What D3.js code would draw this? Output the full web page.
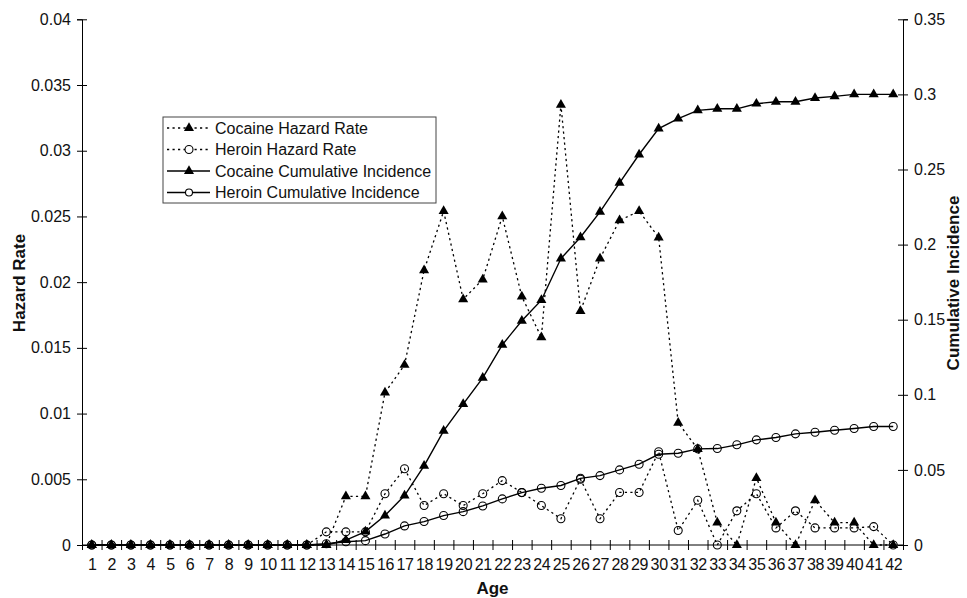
<!DOCTYPE html>
<html>
<head>
<meta charset="utf-8">
<script src="https://cdn.jsdelivr.net/npm/d3@7"></script>
<style>
  html, body { margin: 0; padding: 0; background: #fff; }
  svg { display: block; font-family: "Liberation Sans", Arial, sans-serif; }
</style>
</head>
<body>
<svg id="chart" width="967" height="598"></svg>
<script>
// ---- data ----
const ages = d3.range(1, 43);
const cocaineHazard = [0,0,0,0,0,0,0,0,0,0,0,0,
  0, 0.0037, 0.0037, 0.0116, 0.0137, 0.0209, 0.0254, 0.0187, 0.0202, 0.0250,
  0.0189, 0.0158, 0.0335, 0.0178, 0.0218, 0.0247, 0.0254, 0.0234, 0.0093, 0.0073,
  0.0017, 0, 0.0051, 0.0017, 0, 0.0034, 0.0017, 0.0017, 0, 0];
const heroinHazard = [0,0,0,0,0,0,0,0,0,0,0,0,
  0.001, 0.001, 0.001, 0.0039, 0.0058, 0.0030, 0.0039, 0.0030, 0.0039, 0.0049,
  0.0040, 0.0030, 0.0020, 0.0050, 0.0020, 0.0040, 0.0040, 0.0071, 0.0011, 0.0034,
  0, 0.0026, 0.0039, 0.0013, 0.0026, 0.0013, 0.0013, 0.0013, 0.0014, 0];
const cocaineCum = [0,0,0,0,0,0,0,0,0,0,0,0,
  0, 0.0033, 0.0089, 0.0196, 0.0329, 0.0527, 0.0760, 0.0938, 0.1113, 0.1333,
  0.1493, 0.1630, 0.1907, 0.2049, 0.2218, 0.2411, 0.2600, 0.2772, 0.2839, 0.2894,
  0.2904, 0.2904, 0.2938, 0.2951, 0.2951, 0.2976, 0.2987, 0.3000, 0.3000, 0.3000];
const heroinCum = [0,0,0,0,0,0,0,0,0,0,0,0,
  0.0008, 0.0022, 0.0029, 0.0073, 0.0127, 0.0156, 0.0196, 0.0222, 0.0260, 0.0307,
  0.0349, 0.0378, 0.0396, 0.0444, 0.0462, 0.0500, 0.0538, 0.0604, 0.0611, 0.0640,
  0.0642, 0.0667, 0.0700, 0.0716, 0.0740, 0.0751, 0.0764, 0.0776, 0.0789, 0.0789];
const hazardTicks = [0, 0.005, 0.01, 0.015, 0.02, 0.025, 0.03, 0.035, 0.04];
const hazardTickLabels = ["0", "0.005", "0.01", "0.015", "0.02", "0.025", "0.03", "0.035", "0.04"];
const cumTicks = [0, 0.05, 0.1, 0.15, 0.2, 0.25, 0.3, 0.35];
const cumTickLabels = ["0", "0.05", "0.1", "0.15", "0.2", "0.25", "0.3", "0.35"];
const legendLabels = ["Cocaine Hazard Rate", "Heroin Hazard Rate", "Cocaine Cumulative Incidence", "Heroin Cumulative Incidence"];

// ---- layout ----
const L = 82, R = 903, T = 19.3, B = 545;
const svg = d3.select("#chart");

const x = d3.scaleLinear().domain([0.5, 42.5]).range([L, R]);
const yL = d3.scaleLinear().domain([0, 0.04]).range([B, T]);
const yR = d3.scaleLinear().domain([0, 0.35]).range([B, T]);

// axes
const leftAxis = svg.append("g").attr("transform", `translate(${L},0)`)
  .call(d3.axisLeft(yL).tickValues(hazardTicks).tickFormat((d, i) => hazardTickLabels[i]).tickSizeOuter(0).tickSize(5).tickPadding(6));
leftAxis.selectAll(".tick line").attr("x1", -5).attr("x2", 5);

const rightAxis = svg.append("g").attr("transform", `translate(${R},0)`)
  .call(d3.axisRight(yR).tickValues(cumTicks).tickFormat((d, i) => cumTickLabels[i]).tickSizeOuter(0).tickSize(5).tickPadding(6));
rightAxis.selectAll(".tick line").attr("x1", -5).attr("x2", 5);

const edgeTicks = d3.range(0.5, 43, 1);
const bottomEdges = svg.append("g").attr("transform", `translate(0,${B})`)
  .call(d3.axisBottom(x).tickValues(edgeTicks).tickFormat("").tickSizeOuter(0).tickSize(5));
bottomEdges.selectAll(".tick line").attr("y1", -5).attr("y2", 5);
bottomEdges.select(".domain").remove();
const bottomLabels = svg.append("g").attr("transform", `translate(0,${B})`)
  .call(d3.axisBottom(x).tickValues(ages).tickFormat(d => String(d)).tickSize(0).tickPadding(14));
bottomLabels.select(".domain").remove();
svg.append("line").attr("x1", L).attr("x2", R).attr("y1", B).attr("y2", B).attr("stroke", "#000");

svg.selectAll(".domain").attr("stroke", "#000");
svg.selectAll(".tick line").attr("stroke", "#000");
svg.selectAll(".tick text").attr("font-size", 16).attr("fill", "#111").attr("font-family", "Liberation Sans, Arial, sans-serif");
bottomLabels.selectAll(".tick text").attr("letter-spacing", "-0.3");

// titles
svg.append("text").attr("x", (L + R) / 2).attr("y", 594)
  .attr("text-anchor", "middle").attr("font-size", 17).attr("font-weight", "bold").attr("fill", "#111").text("Age");
svg.append("text").attr("transform", `translate(25,283) rotate(-90)`)
  .attr("text-anchor", "middle").attr("font-size", 17).attr("font-weight", "bold").attr("fill", "#111").text("Hazard Rate");
svg.append("text").attr("transform", `translate(959,283) rotate(-90)`)
  .attr("text-anchor", "middle").attr("font-size", 17).attr("font-weight", "bold").attr("fill", "#111").text("Cumulative Incidence");

// series
const tri = d3.symbol().type(d3.symbolTriangle).size(44);
function drawSeries(vals, yScale, dashed, marker) {
  const pts = ages.map((a, i) => [x(a), yScale(vals[i])]);
  svg.append("path").attr("d", d3.line()(pts)).attr("fill", "none").attr("stroke", "#000")
    .attr("stroke-width", dashed ? 1.3 : 1.4)
    .attr("stroke-dasharray", dashed ? "2.2,3.3" : null);
  const g = svg.append("g");
  if (marker === "tri") {
    g.selectAll("path").data(pts).join("path").attr("d", tri)
      .attr("transform", d => `translate(${d[0]},${d[1]})`).attr("fill", "#000");
  } else {
    g.selectAll("circle").data(pts).join("circle")
      .attr("cx", d => d[0]).attr("cy", d => d[1]).attr("r", 4)
      .attr("fill", "none").attr("stroke", "#000").attr("stroke-width", 1.1);
  }
}
drawSeries(cocaineHazard, yL, true, "tri");
drawSeries(heroinHazard, yL, true, "circle");
drawSeries(cocaineCum, yR, false, "tri");
drawSeries(heroinCum, yR, false, "circle");

// legend
const lg = svg.append("g");
lg.append("rect").attr("x", 163).attr("y", 117).attr("width", 273).attr("height", 86)
  .attr("fill", "#fff").attr("stroke", "#444").attr("stroke-width", 1);
const rowsY = [128, 149.5, 171, 192.5];
const styles = [[true, "tri"], [true, "circle"], [false, "tri"], [false, "circle"]];
legendLabels.forEach((lab, i) => {
  const yy = rowsY[i];
  lg.append("line").attr("x1", 167).attr("x2", 210).attr("y1", yy).attr("y2", yy)
    .attr("stroke", "#000").attr("stroke-width", styles[i][0] ? 1.3 : 1.4)
    .attr("stroke-dasharray", styles[i][0] ? "2.2,3.3" : null);
  if (styles[i][1] === "tri") {
    lg.append("path").attr("d", tri).attr("transform", `translate(189,${yy})`).attr("fill", "#000");
  } else {
    lg.append("circle").attr("cx", 189).attr("cy", yy).attr("r", styles[i][0] ? 4 : 3.5)
      .attr("fill", "#fff").attr("stroke", "#000").attr("stroke-width", 1.1);
  }
  lg.append("text").attr("x", 215).attr("y", yy).attr("dy", "0.35em")
    .attr("font-size", 16).attr("fill", "#111").text(lab);
});
</script>
</body>
</html>
